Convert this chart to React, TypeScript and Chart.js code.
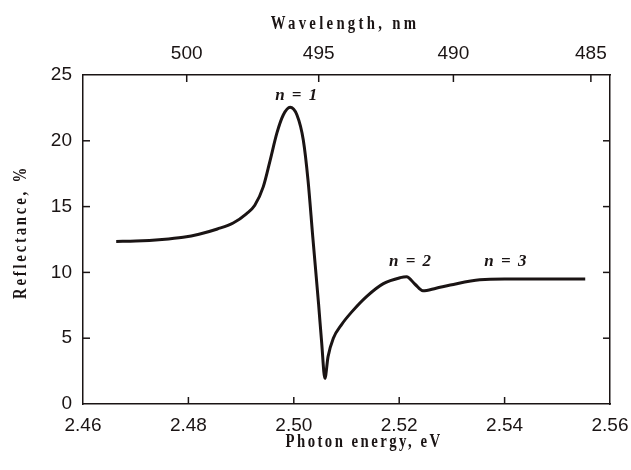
import React, { useEffect, useRef } from "react";
import { Chart, registerables } from "chart.js";

Chart.register(...registerables);

// Photon energy (eV)
const energy = [
  2.4663, 2.47, 2.475, 2.479, 2.482, 2.4855, 2.4885, 2.491, 2.4926, 2.4942,
  2.4955, 2.4968, 2.498, 2.4993, 2.5006, 2.5018, 2.5027, 2.5036, 2.5047, 2.5053,
  2.5059, 2.5065, 2.5075, 2.509, 2.511, 2.5139, 2.517, 2.5202, 2.5214, 2.523,
  2.5245, 2.527, 2.5297, 2.5353, 2.54, 2.545, 2.55, 2.5553,
];
// Reflectance (%)
const reflectance = [
  12.35, 12.38, 12.5, 12.67, 12.9, 13.3, 13.75, 14.45, 15.1, 16.5,
  18.5, 20.6, 21.96, 22.55, 21.96, 20.06, 17.0, 12.7, 7.6, 4.6,
  1.95, 3.6, 5.0, 6.0, 7.0, 8.2, 9.15, 9.6, 9.67, 9.1,
  8.6, 8.8, 9.04, 9.45, 9.5, 9.5, 9.5, 9.5,
];

const energyTicks = [2.46, 2.48, 2.5, 2.52, 2.54, 2.56];
const wavelengthTicks = [500, 495, 490, 485];
const reflectanceTicks = [0, 5, 10, 15, 20, 25];
const HC = 1239.84; // eV*nm

const peakLabels = [
  { text: "n = 1", e: 2.5006, r: 23.1 },
  { text: "n = 2", e: 2.5222, r: 10.5 },
  { text: "n = 3", e: 2.5403, r: 10.5 },
];

const INK = "#1a1414";
const TICK_FONT = { family: "'Liberation Sans', Arial, sans-serif", size: 19 };

const innerTicks = {
  id: "innerTicks",
  afterDraw(chart: any) {
    const { ctx, chartArea } = chart;
    const len = 7;
    ctx.save();
    ctx.strokeStyle = INK;
    ctx.lineWidth = 1.5;
    ["x", "x2"].forEach((id) => {
      const s = chart.scales[id];
      s.ticks.forEach((t: any) => {
        const px = s.getPixelForValue(t.value);
        if (px <= chartArea.left + 1 || px >= chartArea.right - 1) return;
        ctx.beginPath();
        if (id === "x") {
          ctx.moveTo(px, chartArea.bottom);
          ctx.lineTo(px, chartArea.bottom - len);
        } else {
          ctx.moveTo(px, chartArea.top);
          ctx.lineTo(px, chartArea.top + len);
        }
        ctx.stroke();
      });
    });
    ["y", "y2"].forEach((id) => {
      const s = chart.scales[id];
      s.ticks.forEach((t: any) => {
        const py = s.getPixelForValue(t.value);
        if (py <= chartArea.top + 1 || py >= chartArea.bottom - 1) return;
        ctx.beginPath();
        if (id === "y") {
          ctx.moveTo(chartArea.left, py);
          ctx.lineTo(chartArea.left + len, py);
        } else {
          ctx.moveTo(chartArea.right, py);
          ctx.lineTo(chartArea.right - len, py);
        }
        ctx.stroke();
      });
    });
    ctx.restore();
  },
};

function condensedText(ctx: any, text: string, x: number, y: number, spacing: number, rot = 0) {
  ctx.save();
  ctx.translate(x, y);
  if (rot) ctx.rotate(rot);
  ctx.scale(0.82, 1);
  ctx.letterSpacing = spacing + "px";
  ctx.fillText(text, 0, 0);
  ctx.restore();
}

const textPlugin = {
  id: "texts",
  afterDraw(chart: any) {
    const { ctx } = chart;
    const xs = chart.scales.x;
    const ys = chart.scales.y;
    ctx.save();
    ctx.fillStyle = INK;
    ctx.textAlign = "center";
    ctx.textBaseline = "alphabetic";
    // axis titles
    ctx.font = "bold 18px 'Liberation Serif', 'Times New Roman', serif";
    condensedText(ctx, "Wavelength, nm", 345, 29, 4.0);
    condensedText(ctx, "Photon energy, eV", 364, 447, 3.0);
    condensedText(ctx, "Reflectance, %", 26, 232, 3.4, -Math.PI / 2);
    // peak labels
    ctx.font = "bold italic 17px 'Liberation Serif', 'Times New Roman', serif";
    (ctx as any).letterSpacing = "1.5px";
    peakLabels.forEach((l) => {
      ctx.fillText(l.text, xs.getPixelForValue(l.e), ys.getPixelForValue(l.r));
    });
    ctx.restore();
  },
};

export default function App() {
  const ref = useRef<HTMLCanvasElement | null>(null);
  useEffect(() => {
    if (!ref.current) return;
    const border = { display: true, color: INK, width: 1.5 };
    const fitX = (h: number) => (s: any) => {
      s.height = h;
      s.paddingLeft = 0;
      s.paddingRight = 0;
    };
    const fitY = (w: number) => (s: any) => {
      s.width = w;
      s.paddingTop = 0;
      s.paddingBottom = 0;
    };
    const chart = new Chart(ref.current, {
      type: "line",
      data: {
        datasets: [
          {
            data: energy.map((e, i) => ({ x: e, y: reflectance[i] })),
            borderColor: INK,
            borderWidth: 3,
            pointRadius: 0,
            cubicInterpolationMode: "monotone",
            fill: false,
          },
        ],
      },
      options: {
        responsive: false,
        animation: false,
        layout: { padding: 0 },
        plugins: { legend: { display: false }, tooltip: { enabled: false } },
        scales: {
          x: {
            type: "linear",
            position: "bottom",
            min: 2.46,
            max: 2.56,
            afterBuildTicks: (s: any) => {
              s.ticks = energyTicks.map((v) => ({ value: v }));
            },
            afterFit: fitX(66),
            ticks: {
              callback: (v: any) => Number(v).toFixed(2),
              font: TICK_FONT,
              color: INK,
              padding: 10,
              maxRotation: 0,
              autoSkip: false,
            },
            grid: { display: false, drawTicks: false },
            border,
          },
          x2: {
            type: "linear",
            position: "top",
            min: 2.46,
            max: 2.56,
            afterBuildTicks: (s: any) => {
              s.ticks = wavelengthTicks.map((l) => ({ value: HC / l }));
            },
            afterFit: fitX(75),
            ticks: {
              callback: (v: any) => String(Math.round(HC / Number(v))),
              font: TICK_FONT,
              color: INK,
              padding: 10,
              maxRotation: 0,
              autoSkip: false,
            },
            grid: { display: false, drawTicks: false },
            border,
          },
          y: {
            type: "linear",
            position: "left",
            min: 0,
            max: 25,
            afterBuildTicks: (s: any) => {
              s.ticks = reflectanceTicks.map((v) => ({ value: v }));
            },
            afterFit: fitY(83),
            ticks: { font: TICK_FONT, color: INK, padding: 11 },
            grid: { display: false, drawTicks: false },
            border,
          },
          y2: {
            type: "linear",
            position: "right",
            min: 0,
            max: 25,
            afterBuildTicks: (s: any) => {
              s.ticks = reflectanceTicks.map((v) => ({ value: v }));
            },
            afterFit: fitY(21),
            ticks: { display: false },
            grid: { display: false, drawTicks: false },
            border,
          },
        },
      },
      plugins: [innerTicks, textPlugin],
    } as any);
    return () => chart.destroy();
  }, []);
  return (
    <div style={{ position: "absolute", left: 0, top: 0, width: 631, height: 470, background: "#fff" }}>
      <canvas ref={ref} width={631} height={470} />
    </div>
  );
}
